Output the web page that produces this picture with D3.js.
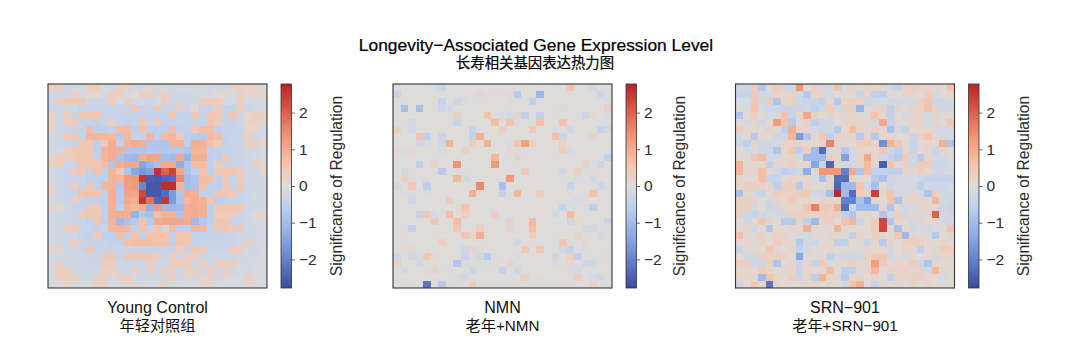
<!DOCTYPE html>
<html>
<head>
<meta charset="utf-8">
<script src="https://cdn.jsdelivr.net/npm/d3@7"></script>
<style>
	html, body { margin: 0; padding: 0; background: #fff; }
	text { font-family: "Liberation Sans", "Noto Sans CJK SC", sans-serif; }
</style>
</head>
<body>
<div id="chart"></div>
<script>
const panelNames = ["Young Control", "NMN", "SRN\u2212901"];
const panelNamesCn = ["年轻对照组", "老年+NMN", "老年+SRN\u2212901"];
const colorbarTicks = [-2, -1, 0, 1, 2];
const colorStops = [-2.78, -2.085, -1.3, -0.6, 0, 0.6, 1.3, 2.085, 2.78];
const colorRange = ["#3a4a9e", "#5f7dc8", "#8fade6", "#bccfee", "#dddcdb", "#f6c3aa", "#f2997a", "#d95a48", "#bb2027"];

// values, rows top to bottom
const youngControl = [
	[.3,.35,-.2,-.2,-.2,.35,.35,-.15,-.2,.3, .3,-.2,-.2,.2,-.2,-.2,-.2,-.2,-.2,-.2, -.2,-.2,-.2,-.2,.2,.3,.2,.3,-.15],
	[-.25,-.25,-.2,.35,-.2,.2,.1,-.2,.3,.35, -.2,.1,.35,.35,-.2,.4,-.2,-.3,-.3,-.2, -.2,-.2,.1,.2,-.2,.3,.2,.2,.2],
	[-.3,.4,.45,.45,.45,-.3,-.3,-.3,.35,-.2, .4,-.3,-.2,-.3,-.2,.4,-.3,-.25,-.2,-.2, .4,.4,.4,-.2,-.2,.35,-.2,-.2,-.2],
	[-.3,-.3,-.3,-.3,-.4,-.4,-.4,-.4,-.4,-.35, -.4,.5,-.4,-.4,.45,-.4,-.35,.3,-.35,.2, -.4,-.4,.4,-.4,-.4,.4,-.35,-.2,-.2],
	[.2,-.3,.35,-.4,.5,.5,.5,-.4,-.4,-.4, -.4,-.4,-.4,-.4,-.4,-.45,.5,-.4,-.4,.5, -.4,.45,.45,-.4,.5,-.35,.2,.3,.3],
	[.2,-.3,.35,.4,-.4,-.4,-.45,-.4,.35,-.4, -.45,-.4,.5,-.4,.45,-.5,-.45,-.4,-.45,-.4, -.4,.55,.35,-.4,-.4,-.3,.3,.3,.2],
	[.2,-.3,-.35,-.4,-.4,.7,-.55,-.55,-.5,.7, .7,-.6,.65,-.55,-.6,-.6,.7,-.45,-.5,.45, .7,.65,-.5,-.4,-.4,-.35,.2,.2,-.2],
	[-.2,-.3,.45,.5,-.4,.8,.8,.8,.75,-.7, .8,-.45,-.55,.8,-.6,.75,.8,.45,-.6,-.7, -.7,.75,.65,-.45,-.4,-.35,.3,-.3,-.2],
	[-.25,-.3,-.35,-.4,.5,.5,-.55,.45,1.0,-.55, .9,1.0,.95,-.8,-.8,-.8,.85,.85,-.55,.95, .85,.65,.4,-.45,-.4,-.35,.3,.3,.2],
	[-.2,-.2,.3,.45,.5,.5,-.55,.85,1.0,.9, -.8,-.8,-.8,-.75,-.75,-.75,-.75,-.75,-.8,.85, .8,-.55,-.45,-.4,-.4,-.35,-.2,-.25,-.2],
	[.2,.4,.4,.45,.55,.6,-.5,.8,1.0,-.85, -1.05,-1.1,.95,1.1,1.1,-.95,-1.05,1.05,-1.15,.95, .9,-.6,-.5,.45,-.4,-.4,-.3,-.2,-.15],
	[.3,.4,-.3,-.4,.55,.55,.6,.7,-.8,.95, 1.05,1.05,-1.4,-1.15,-.9,1.05,1.05,-1.3,-.85,.75, .7,-.55,.4,-.4,-.4,-.35,-.3,.3,.2],
	[-.2,-.3,-.35,.4,.45,-.45,.65,-.55,.8,.45, -.8,-1.4,-1.7,-1.5,2.6,2.0,2.4,1.05,-.85,-.6, .6,-.6,.45,.55,.55,.45,-.25,-.3,.2],
	[-.2,-.3,-.35,-.4,-.4,-.5,-.55,-.6,.85,.8, 1.25,1.3,2.5,-2.5,-2.55,-2.4,-2.3,1.5,-.95,-.8, .7,.65,-.5,.45,-.4,.4,-.3,-.25,-.2],
	[.2,-.3,-.35,.35,-.45,.55,-.55,.8,.85,-.75, 1.2,1.25,-1.9,-2.6,-2.6,2.65,2.65,.85,-.95,-.85, .7,-.6,-.55,.5,-.4,.5,-.3,-.25,-.2],
	[.2,-.3,-.35,-.4,.6,.65,.6,-.55,.95,-.7, 1.15,1.1,2.3,-2.6,-2.6,-2.3,-1.6,-.8,1.0,.95, -.6,-.55,.5,.5,.45,-.35,-.3,-.2,-.2],
	[-.2,-.3,-.35,.4,-.4,-.45,-.5,-.55,.95,-.7, 1.05,1.0,2.5,1.8,-2.4,2.5,-1.6,-.85,.8,1.0, .85,.55,-.55,-.45,-.4,-.35,-.3,-.25,-.2],
	[.2,.2,-.3,-.4,-.4,.45,.45,-.55,.9,-.6, .95,.8,1.0,-1.2,1.3,-1.05,-1.1,-1.0,.95,1.0, .9,-.6,.45,.5,.5,.45,-.3,-.25,-.2],
	[-.2,-.3,-.3,-.35,.4,.5,.45,-.5,.95,1.0, .95,-1.2,-.75,-.9,.7,.9,.9,-.85,.95,1.0, .9,-.6,.4,.4,.4,-.35,-.25,.2,.2],
	[-.2,-.25,-.3,-.4,-.4,-.45,.55,-.55,.85,-1.05, -.85,-.75,.65,-.7,1.0,1.05,1.05,1.05,1.0,-1.05, -.75,-.55,.5,.5,-.4,-.35,-.3,-.2,-.2],
	[-.2,-.25,.4,.45,-.35,-.4,-.45,-.4,.8,.85, .8,-.5,.65,-.45,.6,-.3,.75,-.6,-.6,.8, .8,-.45,.5,.55,.45,.45,-.25,-.2,-.2],
	[-.2,-.25,-.3,-.3,-.4,-.45,.45,-.55,-.55,.7, -.5,.6,-.5,.6,.65,.65,-.5,.6,.6,-.5, -.5,-.4,-.4,-.4,-.35,-.3,-.25,-.2,-.2],
	[-.2,-.25,-.3,.4,-.35,-.4,-.4,-.4,-.45,-.45, .65,.7,.7,.7,.65,.6,-.5,.55,.5,-.4, -.4,-.4,-.4,-.35,-.35,-.3,.3,-.2,-.2],
	[.2,.2,-.3,-.3,-.35,.5,-.4,-.4,-.4,-.4, -.4,-.4,-.4,-.4,-.4,-.4,-.4,.4,-.4,.45, .4,-.35,-.35,-.35,.4,.4,-.25,-.2,-.15],
	[-.2,-.2,-.25,-.3,-.3,-.35,-.35,.45,.45,-.35, .45,.5,.45,.45,.4,-.35,.4,-.3,.4,.4, -.35,-.3,-.3,-.3,-.3,-.3,-.2,-.2,-.15],
	[-.2,.3,-.25,-.3,-.3,-.3,-.35,.4,.4,-.3, -.35,-.3,-.3,.35,-.3,-.3,.4,.4,.4,-.3, .35,-.3,.35,.35,.4,-.2,-.2,-.15,-.15],
	[-.2,.35,.35,-.25,-.25,-.3,-.3,.3,.3,-.3, -.3,.35,-.3,.3,-.3,.3,.3,-.25,.3,.3, -.3,.35,-.25,.3,-.25,-.2,-.2,-.15,-.15],
	[-.15,.3,.35,.35,-.2,-.25,.3,.3,-.2,.35, .35,-.2,-.25,-.2,-.2,-.2,.3,-.2,.2,-.2, .2,.3,-.2,.2,-.15,-.15,.3,.2,-.15],
	[-.15,.1,.2,-.15,-.15,-.15,.3,.3,-.15,-.15, .2,.2,-.15,-.15,-.15,.3,-.15,-.15,-.15,-.15, .2,.2,-.15,-.15,-.15,-.15,.2,-.15,-.15]
];

const nmn = [
	[0,0,0,0,0,-.1,-.3,0,0,0, 0,0,0,0,0,0,0,0,0,0, 0,0,-.1,.6,0,0,-.2,0,0],
	[-.35,0,0,0,0,0,0,0,0,0, 0,.15,0,.05,0,.1,-.7,0,0,-1.1, 0,0,0,0,0,0,0,-.3,0],
	[0,0,0,0,0,0,-.4,0,-.3,-.1, 0,0,0,0,0,.1,0,0,-.5,0, 0,0,0,0,0,0,0,0,-.1],
	[0,-.9,0,-.9,0,0,-.3,-.15,0,0, 0,0,0,0,0,0,0,0,0,0, 0,0,.15,0,0,0,0,0,.3],
	[0,0,0,0,0,0,0,0,.25,0, 0,0,.6,0,-.1,-.2,.25,-.5,0,-.5, 0,0,0,0,0,-.35,.1,0,-.1],
	[0,0,-.2,0,0,0,0,0,-.4,0, 0,0,0,.7,0,.6,0,0,0,.7, 0,0,.6,0,0,0,0,0,0],
	[.3,0,-.2,0,0,0,0,0,0,0, -.4,0,0,0,.3,0,0,0,.5,0, 0,-.1,0,-.25,0,0,0,-.4,-.25],
	[0,0,0,.6,-.5,0,-.3,0,0,0, -.45,.95,0,0,0,0,0,0,0,0, 0,.7,-.3,0,0,0,.25,0,0],
	[0,0,0,-.3,-.1,0,-.3,.9,0,0, .35,0,.95,0,0,-.15,.6,1.2,.3,0, 0,0,.25,0,0,0,0,0,0],
	[.1,-.1,.1,0,0,0,-.15,0,0,.25, 0,0,0,0,0,.1,0,0,0,0, 0,0,.35,-.15,0,0,0,0,0],
	[0,0,0,0,0,-.05,0,0,0,0, 0,0,0,.8,0,0,.2,0,0,0, 0,0,0,0,0,0,0,0,-.45],
	[0,0,0,-.5,0,.25,0,0,1.4,0, 0,0,0,1.3,0,0,0,0,0,0, 0,0,0,0,0,.25,0,-.35,0],
	[0,-.25,0,0,0,0,-.7,0,0,0, 0,0,0,0,0,0,0,.45,0,0, 0,0,-.2,0,.35,0,0,0,0],
	[0,.3,.1,0,0,0,0,0,.8,-.2, 0,0,0,0,0,1.3,0,0,0,0, 0,0,0,0,-.1,0,-.2,0,0],
	[-.2,0,.45,0,-.6,0,0,0,0,0, 0,1.5,0,0,-.9,0,0,0,0,0, 0,0,0,-.4,0,0,0,-.25,0],
	[0,-.1,-.1,0,-.1,0,0,0,0,0, .95,0,0,0,-.45,0,.8,0,0,.35, 0,0,0,.1,0,0,.6,0,0],
	[0,0,-.25,0,0,0,0,.35,0,0, 0,0,0,0,0,0,0,0,0,0, 0,0,0,0,-.15,0,0,0,0],
	[0,0,0,0,0,0,0,0,0,.6, 0,0,0,0,0,0,0,0,0,0, 0,0,-.4,0,0,0,-.5,0,0],
	[0,0,0,-.4,.45,-.15,0,.7,0,.35, 0,0,0,.3,0,0,0,0,0,0, 0,-.25,0,.75,0,0,0,0,0],
	[0,0,0,0,0,.5,0,0,.7,0, 0,0,0,0,0,.2,0,0,.8,0, 0,0,0,-.3,.1,0,0,0,-.3],
	[0,-.1,-.5,0,0,0,0,0,.5,0, 0,.3,0,0,0,.2,0,0,.7,0, 0,0,0,0,0,-.25,-.2,0,0],
	[0,.1,0,0,0,0,0,0,0,.5, .2,.95,0,0,0,0,0,0,.35,0, 0,0,0,0,.25,0,0,-.2,0],
	[0,0,0,0,0,0,.3,0,0,0, 0,0,0,0,0,0,-.25,0,0,0, 0,-.05,.5,0,0,.15,0,0,0],
	[0,.1,.1,0,0,0,0,0,0,-.3, .2,.15,0,0,0,0,0,.5,0,.5, 0,0,-.2,-.4,0,-.1,0,0,0],
	[-.25,0,-.25,-.15,.5,.15,0,0,0,-.4, -.1,-.25,-.7,0,0,0,-.1,0,0,0, 0,-.25,0,.3,-.5,0,0,0,-.1],
	[.25,0,0,-.25,0,0,0,0,-.8,-.15, 0,0,-.1,.05,0,.2,0,0,0,0, 0,.1,0,.15,0,-.25,-.25,0,0],
	[0,-.2,0,0,.1,.2,0,-.1,0,0, -.3,0,0,0,-.4,0,-.25,0,0,0, 0,0,0,-.1,-.15,0,0,0,0],
	[0,0,0,0,0,0,0,0,-.1,-.2, 0,0,0,0,0,0,0,.25,0,.1, 0,0,0,0,.35,0,-.15,-.2,0],
	[0,0,0,0,-2.2,0,-.7,0,0,0, .4,-.05,0,0,0,0,0,0,0,0, 0,0,0,0,0,0,.25,0,0]
];

const srn901 = [
	[-.3,-.3,.4,-.7,.1,.4,-.25,-.25,1.35,.1, .3,-.2,-.2,.6,-.15,.25,.1,.25,.2,.2, -.2,-.4,.2,.3,.2,.2,.1,.1,.6],
	[-.4,-.4,.4,-.2,-.2,.3,.2,.25,-.25,-.7, .2,.25,-.2,.1,.1,.1,-.3,.2,-.5,-.5, .1,.1,.2,.2,.1,.4,-.2,.1,.2],
	[-.15,-.2,.45,-.25,.4,-.8,.2,.25,-.25,-.35, -.35,-.5,.2,-.7,.3,.3,.25,-.3,-.2,-.2, -.2,-.2,-.2,-.2,.35,.5,-.3,-.3,-.2],
	[.1,-.15,.6,-.2,-.3,-.3,-.35,-.35,-.35,-.3, -.5,-.25,.4,-.25,.25,.25,-1.15,.1,.2,.2, -.5,.2,.1,.2,.2,.6,.25,-.2,-.2],
	[-.8,.1,.4,.1,-.2,-.2,.6,-.4,.2,1.05, .25,.1,.2,.1,.2,.25,.1,.1,.6,.2, -.5,.1,-.2,.2,.2,-.2,.2,.1,.1],
	[.1,-.2,.2,-.3,.1,1.25,.6,-.7,.1,.2, -.6,-.3,-.3,.1,.2,.25,.25,.2,-.2,1.05, -.4,.1,.1,.2,.2,-.2,.2,.1,.5],
	[.4,.1,.2,.1,.3,.1,-.6,.95,.2,.2, -.2,-.3,-.25,-.7,.1,.7,.2,.1,.3,.2, -.9,-.25,-.45,.1,.2,.2,-.2,-.2,-.2],
	[-.2,.1,-.7,.2,.1,-.3,-.3,.8,-1.6,-.8, .1,.5,-.5,.2,.2,.2,-.7,.2,-.7,.2, .1,.1,.1,-.35,.3,.6,.2,-.2,-.2],
	[-.3,-.6,.2,-.25,-.25,-.2,.2,.25,.25,.2, .1,.3,1.6,.2,.1,.1,.4,.45,.2,-1.8, .9,.5,.2,-.4,.1,.2,.1,.95,-.8],
	[.1,-.2,-.15,-.3,-.3,-.8,.2,.5,-.6,.3, -1.0,-2.3,-.2,.2,-.7,-.3,.2,.2,.2,.5, -.3,-.6,.2,-.4,.1,.2,-.4,.2,.1],
	[.1,.1,.5,.7,-.2,-.2,.2,.25,-.2,-1.05, -1.05,-1.05,.3,.25,-1.5,-.3,.2,1.05,.2,-.3, -.4,-.7,.4,-.2,-.7,.2,-.2,-.2,.1],
	[.8,.1,.2,.2,-.5,.2,.2,.3,.2,.2, -1.4,-.4,-2.4,.2,-.2,-.3,.2,.8,.2,-2.5, .6,.2,.3,-.3,.4,.4,-.3,-.3,-.2],
	[.8,.2,.1,.7,.1,-.2,-.6,-.4,-.3,-1.3, .1,1.3,1.3,1.3,-2.0,1.05,-.8,.7,-.5,-.5, -.5,-.5,.2,.2,.4,.2,-.3,-.25,-.2],
	[.2,.1,.1,.7,-.4,-.4,.1,.25,.2,.2, -.15,-.9,.2,-2.3,-2.3,.2,.1,.1,-.7,-.9, -.25,-.2,-.2,-.2,-.25,-.4,-.4,-.4,-.4],
	[.2,.3,.3,.3,.2,-.6,.3,.3,-.7,.2, .1,.1,.2,-2.4,-1.05,-1.05,.5,-.3,-.9,.1, -.3,-.2,-.2,-.2,-.6,-.2,-.3,-.3,-.2],
	[-.9,.2,-.25,-.4,.2,.4,.3,.3,.4,.45, -.2,-.3,-.9,2.7,-1.0,-2.3,.4,.2,2.4,.2, .6,-.2,-.2,.2,-.2,-.8,.4,-.2,-.2],
	[.3,.3,.2,.1,-.25,.3,.2,.5,.2,.2, .1,.2,.2,.1,-2.0,-2.0,-.9,-1.5,.2,.1, .6,-.8,.2,.2,.2,.1,.8,-.2,-.3],
	[.3,.3,-.2,.1,-.35,-.25,.2,.2,.2,.5, 1.6,.45,.4,.9,-2.3,-.3,-1.0,-1.0,-1.0,.2, -.8,.2,-.2,-.2,.2,.2,.2,-.25,-.4],
	[.3,-.25,-.4,-.25,-.2,-.2,-.2,.3,.3,.3, .3,.4,.3,.3,-.5,-.8,.1,.2,.1,-.8, -.2,.3,-.3,.2,-.2,.2,2.0,-.2,-.3],
	[.1,-.25,.1,.5,.2,.1,-.7,-.7,.2,-.6, -1.0,.2,.3,.1,.6,.8,-.3,.1,.4,2.3, -.8,.2,.1,-.2,.2,.1,.2,-.2,-.2],
	[.1,.2,-.25,.1,-.8,.1,.1,.2,.2,.95, .2,.1,.1,.9,.2,.1,.1,.1,.4,2.3, .1,-.9,.2,-.3,-.2,-.2,-.15,.1,.6],
	[.7,.1,.1,.2,.1,.2,.2,.1,-.2,-.2, .1,.1,.2,.2,.1,-.5,.2,.1,.3,.2, .1,.5,-1.05,.2,.1,.1,-.7,.1,.2],
	[.2,.2,.1,.2,.1,.4,.2,.1,-.7,-.2, -.3,.1,.1,-.5,-.5,.1,.1,-.4,.2,-.7, .2,.1,.3,.35,.35,.2,.1,.2,.1],
	[-.4,.1,.2,.1,.5,.2,.1,.2,-.5,-.2, .1,.1,.2,.1,.1,.1,.1,.2,.2,.2, -.2,.1,.2,.2,-.6,.1,.2,.4,.4],
	[.1,-.2,-.25,.3,.3,.3,.2,.1,-1.4,.1, .1,.1,-.5,-.2,-.25,-.25,-.2,.2,.45,.5, -.2,.1,-.2,.2,.1,.1,-.2,.2,.2],
	[.4,.3,-.3,-.3,.3,-.8,.1,.2,-.35,.2, -.4,.4,-.2,.2,.2,.3,.1,.2,1.25,.4, .1,.2,.2,.4,-.3,-.8,.2,.1,.1],
	[.2,.2,.1,.4,.2,.1,.2,.2,-.4,.2, .1,.2,.7,.1,-.6,-.6,.1,.2,.8,.1, .2,.2,.3,.2,.3,-.3,.8,.2,.1],
	[.2,.2,.1,-1.0,.6,.2,.1,.4,-.35,.2, -.6,.9,.2,.2,-.7,.2,.2,.1,.2,.1, -.5,.2,.2,.3,.3,.2,.1,-.2,.1],
	[-.3,.1,.5,.2,-2.2,.2,.1,.1,.1,.2, .2,.1,.2,.1,-.2,.6,.9,.1,-.4,.2, .1,.2,.1,.2,.1,.2,.1,.1,.1]
];

const panelData = [youngControl, nmn, srn901];

const width = 1080, height = 360;
const panelLeft = [48, 393, 735.5];
const panelW = 219, panelTop = 84, panelH = 204;
const barGap = 14, barW = 10.5;
const barLabelX = [50, 48, 50];
const textColor = "#2b2b2b";

const svg = d3.select("#chart")
	.append("svg")
	.attr("width", width)
	.attr("height", height)
	.style("display", "block");

// Add the two line title
svg.append("text")
	.attr("x", 536)
	.attr("y", 51)
	.attr("text-anchor", "middle")
	.style("font-size", "17.4px")
	.style("stroke", "#000")
	.style("stroke-width", "0.2px")
	.style("fill", "#000")
	.text("Longevity\u2212Associated Gene Expression Level");

svg.append("text")
	.attr("x", 535)
	.attr("y", 68)
	.attr("text-anchor", "middle")
	.style("font-size", "14.4px")
	.style("stroke", "#000")
	.style("stroke-width", "0.2px")
	.style("fill", "#000")
	.text("长寿相关基因表达热力图");

const color = d3.scaleLinear()
	.domain(colorStops)
	.range(colorRange)
	.clamp(true);

const barY = d3.scaleLinear()
	.domain([-2.78, 2.78])
	.range([panelTop + panelH, panelTop]);

const gradient = svg.append("defs")
	.append("linearGradient")
	.attr("id", "cbar")
	.attr("x1", 0).attr("x2", 0)
	.attr("y1", 1).attr("y2", 0);

gradient.selectAll("stop")
	.data(colorStops)
	.join("stop")
	.attr("offset", d => (d + 2.78) / 5.56)
	.attr("stop-color", d => color(d));

panelData.forEach((rows, p) => {
	const g = svg.append("g")
		.attr("transform", `translate(${panelLeft[p]},${panelTop})`);

	const x = d3.scaleBand().domain(d3.range(rows[0].length)).range([0, panelW]);
	const y = d3.scaleBand().domain(d3.range(rows.length)).range([0, panelH]);

	// the reference image is slightly soft, a small blur brings that back
	g.append("g")
		.style("filter", "blur(0.35px)")
		.selectAll("g.row")
		.data(rows)
		.join("g")
		.attr("class", "row")
		.selectAll("rect")
		.data((row, r) => row.map((v, c) => ({r, c, v})))
		.join("rect")
		.attr("x", d => x(d.c))
		.attr("y", d => y(d.r))
		.attr("width", x.bandwidth())
		.attr("height", y.bandwidth())
		.attr("shape-rendering", "crispEdges")
		.attr("fill", d => color(d.v));

	g.append("rect")
		.attr("width", panelW)
		.attr("height", panelH)
		.attr("fill", "none")
		.attr("stroke", "#333")
		.attr("stroke-width", 1.1);

	// colorbar
	const bar = g.append("g")
		.attr("transform", `translate(${panelW + barGap},0)`);

	bar.append("rect")
		.attr("width", barW)
		.attr("height", panelH)
		.attr("fill", "url(#cbar)")
		.attr("stroke", "#333")
		.attr("stroke-width", 0.8);

	const axis = bar.append("g")
		.attr("transform", `translate(${barW},${-panelTop})`)
		.call(d3.axisRight(barY)
			.tickValues(colorbarTicks)
			.tickFormat(d3.format("d"))
			.tickSize(3.5)
			.tickPadding(4));

	axis.select(".domain").remove();
	axis.selectAll("line").attr("stroke", "#444").attr("stroke-width", 0.8);
	axis.selectAll("text")
		.style("font-size", "15.5px")
		.style("fill", textColor)
		.style("font-family", "Liberation Sans");

	bar.append("text")
		.attr("transform", `translate(${barW + barLabelX[p]},${panelH / 2}) rotate(-90)`)
		.attr("text-anchor", "middle")
		.style("font-size", "15.6px")
		.style("fill", textColor)
		.text("Significance of Regulation");

	// panel labels
	g.append("text")
		.attr("x", panelW / 2)
		.attr("y", panelH + 25)
		.attr("text-anchor", "middle")
		.style("font-size", "16px")
		.style("fill", "#111")
		.text(panelNames[p]);

	g.append("text")
		.attr("x", panelW / 2)
		.attr("y", panelH + 43)
		.attr("text-anchor", "middle")
		.style("font-size", "15.2px")
		.style("fill", "#111")
		.text(panelNamesCn[p]);
});
</script>
</body>
</html>
